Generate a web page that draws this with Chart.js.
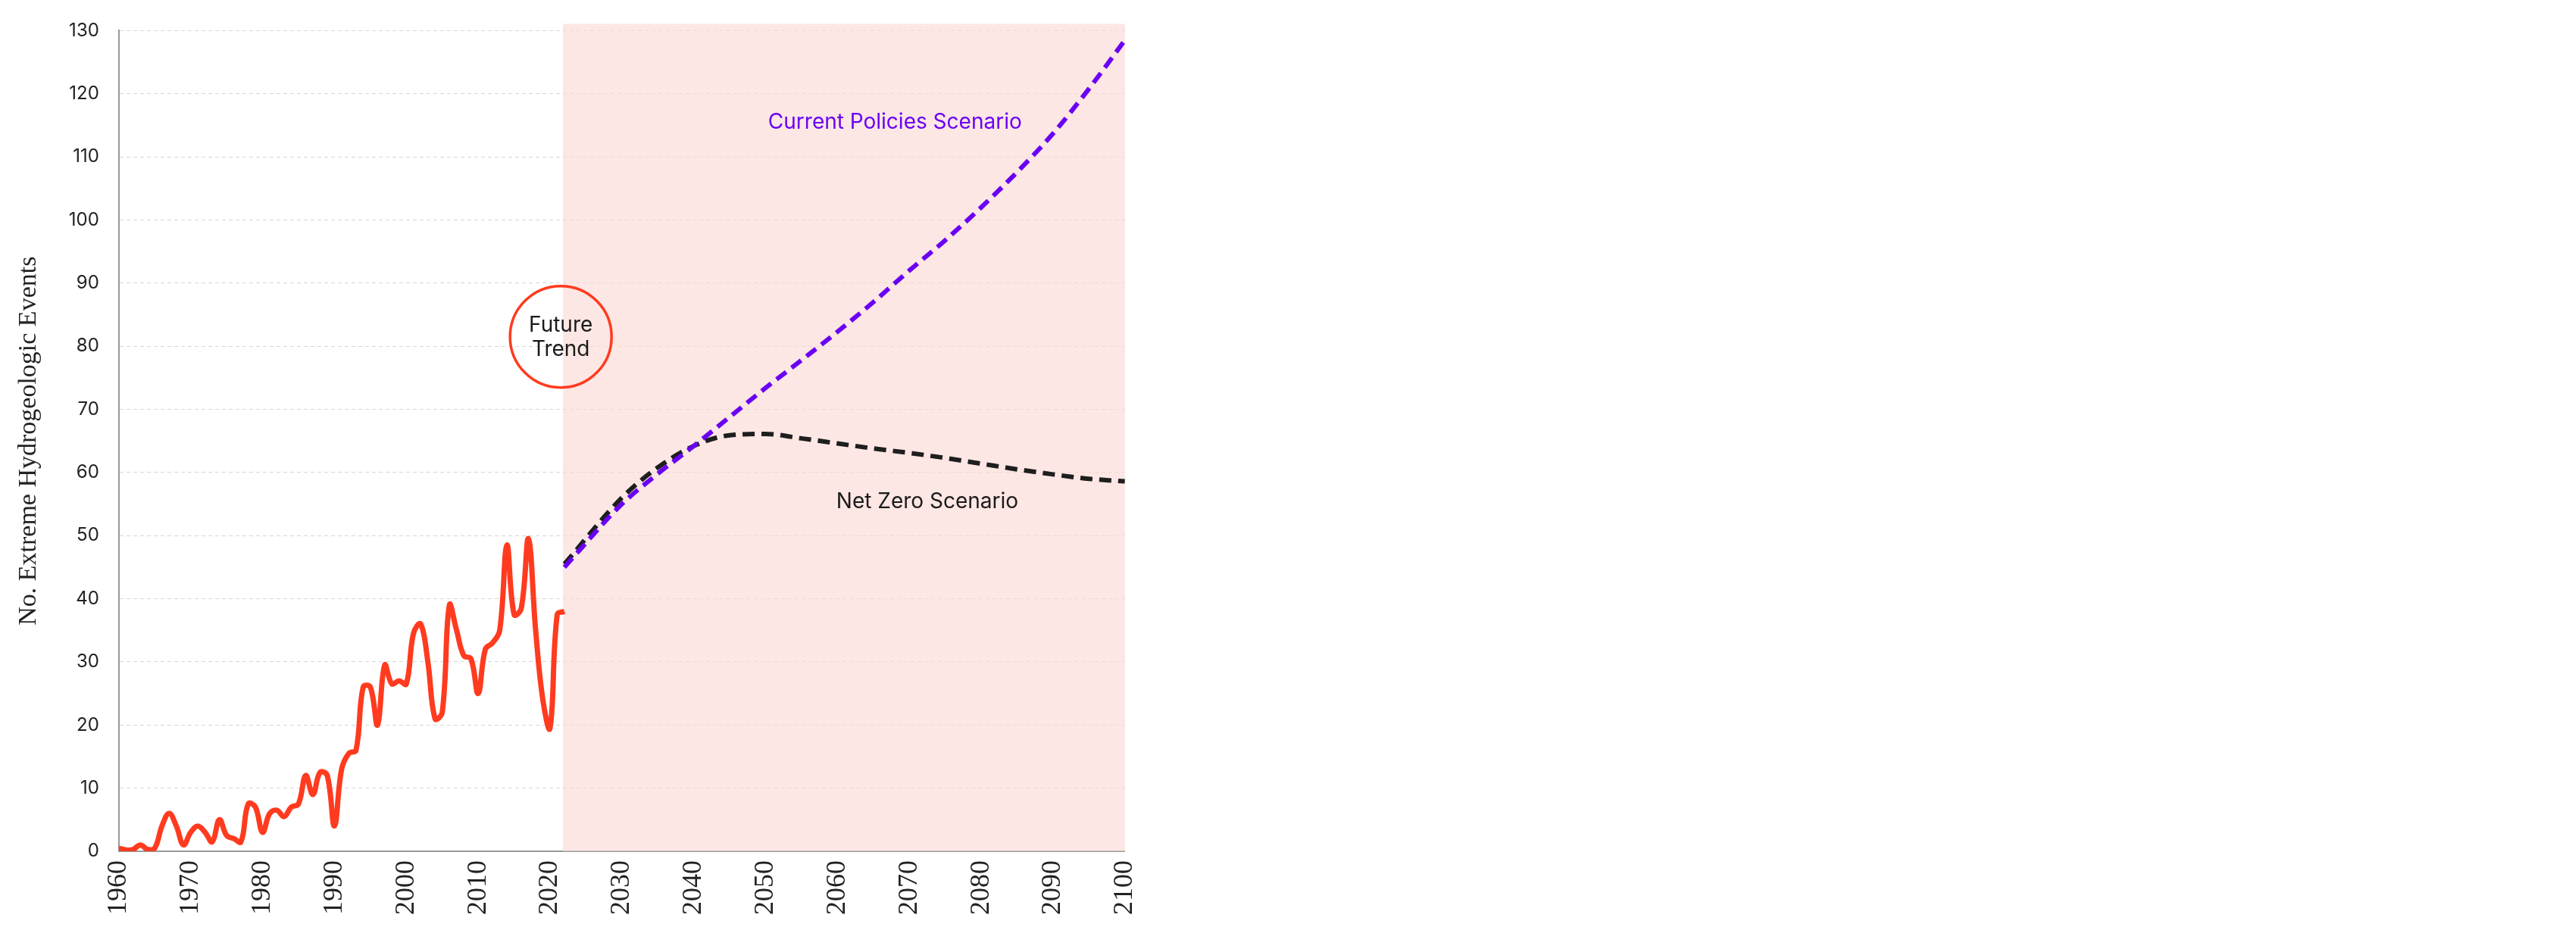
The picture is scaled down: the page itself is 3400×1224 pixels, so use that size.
<!DOCTYPE html>
<html>
<head>
<meta charset="utf-8">
<script src="https://cdn.jsdelivr.net/npm/chart.js@4"></script>
<style>
  body { margin: 0; background: #fff; }
  #wrap { position: absolute; left: 0; top: 0; width: 1540px; height: 1224px; }
</style>
</head>
<body>
<div id="wrap"><canvas id="chartContainer"></canvas></div>
<script>
const histYears = [1960,1961,1962,1963,1964,1965,1966,1967,1968,1969,1970,1971,1972,1973,1974,1975,1976,1977,1978,1979,1980,1981,1982,1983,1984,1985,1986,1987,1988,1989,1990,1991,1992,1993,1994,1995,1996,1997,1998,1999,2000,2001,2002,2003,2004,2005,2006,2007,2008,2009,2010,2011,2012,2013,2014,2015,2016,2017,2018,2019,2020,2021,2022];
const histEvents = [0.5,0.2,0.3,1,0.3,0.5,4,6,4,1,3,4,3,1.5,5,2.5,2,1.5,7.5,7,3,6,6.5,5.5,7,7.5,12,9,12.5,12,4,13,15.5,16,26,26,20,29.5,26.5,27,26.5,34.5,36,30,21,22,39,35,31,30.5,25,32,33,35,48.5,37.5,38.5,49.5,35,24,19.5,37.5,38];
const scenarioYears = [2022,2030,2035,2040,2045,2050,2055,2060,2065,2070,2075,2080,2085,2090,2095,2100];
const currentPolicies = [45,55,59.8,64.2,68.8,73.4,77.8,82.3,87,92,96.8,102,107.6,113.7,120.8,128.5];
const netZero = [45.5,56,60.8,64.2,65.9,66.1,65.4,64.6,63.8,63.1,62.3,61.4,60.5,59.7,59,58.6];
const yTicks = [0,10,20,30,40,50,60,70,80,90,100,110,120,130];

const pts = (xs, ys) => xs.map((x, i) => ({ x: x, y: ys[i] }));

const overlay = {
  id: 'overlay',
  beforeDatasetsDraw(chart) {
    const { ctx, chartArea, scales: { x } } = chart;
    ctx.save();
    ctx.fillStyle = 'rgba(250,215,210,0.6)';
    const x0 = x.getPixelForValue(2021.8);
    ctx.fillRect(x0, chartArea.top - 9, chartArea.right - x0, chartArea.bottom - chartArea.top + 9);
    ctx.restore();
  },
  afterDatasetsDraw(chart) {
    const { ctx, scales: { x, y } } = chart;
    ctx.save();
    // Future Trend circle
    const cx = x.getPixelForValue(2021.5), cy = y.getPixelForValue(81.5);
    ctx.beginPath();
    ctx.ellipse(cx, cy, 67, 67, 0, 0, Math.PI * 2);
    ctx.lineWidth = 3.5;
    ctx.strokeStyle = '#ff3b1f';
    ctx.stroke();
    ctx.fillStyle = '#1a1a1a';
    ctx.font = '28px Inter';
    ctx.textAlign = 'center';
    ctx.textBaseline = 'middle';
    ctx.fillText('Future', cx, cy - 15);
    ctx.fillText('Trend', cx, cy + 17);
    // scenario labels
    ctx.fillStyle = '#6a00f4';
    ctx.fillText('Current Policies Scenario', x.getPixelForValue(2068), y.getPixelForValue(115.5));
    ctx.fillStyle = '#1a1a1a';
    ctx.fillText('Net Zero Scenario', x.getPixelForValue(2072.5), y.getPixelForValue(55.3));
    ctx.restore();
  }
};

new Chart(document.getElementById('chartContainer'), {
  type: 'line',
  data: {
    datasets: [
      {
        label: 'Historical',
        data: pts(histYears, histEvents),
        borderColor: '#ff3b1f',
        borderWidth: 7,
        tension: 0.4,
        pointRadius: 0
      },
      {
        label: 'Current Policies Scenario',
        data: pts(scenarioYears, currentPolicies),
        borderColor: '#6a00f4',
        borderWidth: 6,
        borderDash: [16, 9],
        cubicInterpolationMode: 'monotone',
        pointRadius: 0
      },
      {
        label: 'Net Zero Scenario',
        data: pts(scenarioYears, netZero),
        borderColor: '#1e1e1e',
        borderWidth: 6,
        borderDash: [16, 9],
        cubicInterpolationMode: 'monotone',
        pointRadius: 0
      }
    ]
  },
  options: {
    responsive: true,
    maintainAspectRatio: false,
    animation: false,
    layout: { padding: { top: 16, right: 16, bottom: 4, left: 14 } },
    plugins: { legend: { display: false }, tooltip: { enabled: false } },
    scales: {
      x: {
        type: 'linear',
        min: 1960,
        max: 2100,
        grid: { display: false, drawTicks: false },
        border: { color: '#999', width: 2 },
        ticks: {
          stepSize: 10,
          minRotation: 90,
          maxRotation: 90,
          padding: 12,
          color: '#222',
          font: { family: 'Liberation Serif', size: 36 },
          callback: v => String(v)
        }
      },
      y: {
        min: 0,
        max: 130,
        afterBuildTicks: axis => { axis.ticks = yTicks.map(v => ({ value: v })); },
        grid: { color: '#d6d6d6', drawTicks: false },
        border: { color: '#999', width: 2, dash: [5, 4] },
        ticks: {
          padding: 26,
          color: '#222',
          font: { family: 'Inter', size: 24 }
        },
        title: {
          display: true,
          text: 'No. Extreme Hydrogeologic Events',
          color: '#222',
          font: { family: 'Liberation Serif', size: 34 },
          padding: { bottom: 6 }
        }
      }
    }
  },
  plugins: [overlay]
});
</script>
</body>
</html>
